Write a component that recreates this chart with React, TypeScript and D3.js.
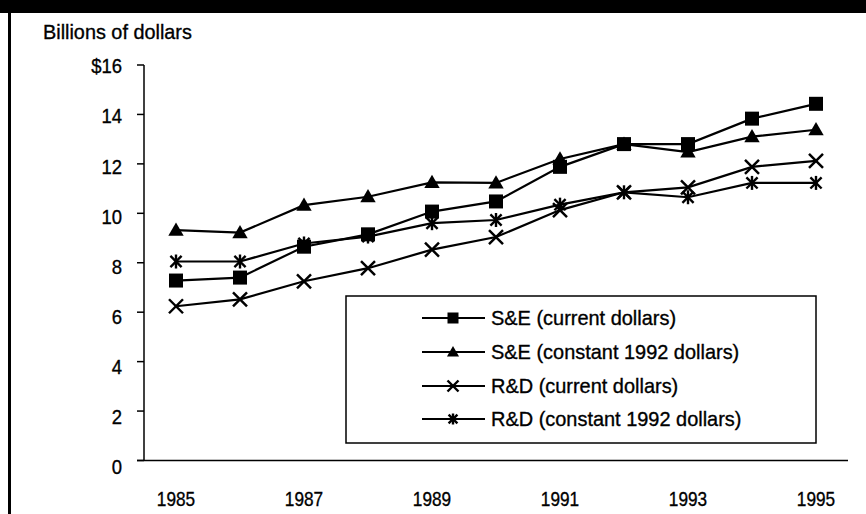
import React from "react";
import * as d3 from "d3";

const years = [1985, 1986, 1987, 1988, 1989, 1990, 1991, 1992, 1993, 1994, 1995];
const seCurrent = [7.28, 7.4, 8.65, 9.15, 10.07, 10.48, 11.88, 12.8, 12.8, 13.83, 14.43];
const seConstant = [9.32, 9.22, 10.33, 10.67, 11.25, 11.23, 12.2, 12.8, 12.48, 13.1, 13.38];
const rdCurrent = [6.24, 6.52, 7.25, 7.78, 8.53, 9.04, 10.13, 10.85, 11.05, 11.88, 12.12];
const rdConstant = [8.05, 8.05, 8.78, 9.06, 9.6, 9.73, 10.35, 10.85, 10.65, 11.23, 11.23];
const yTicks = [0, 2, 4, 6, 8, 10, 12, 14, 16];
const yTickLabels = ["0", "2", "4", "6", "8", "10", "12", "14", "$16"];
const xLabelYears = [1985, 1987, 1989, 1991, 1993, 1995];
const seriesNames = [
  "S&E (current dollars)",
  "S&E (constant 1992 dollars)",
  "R&D (current dollars)",
  "R&D (constant 1992 dollars)",
];
const seriesValues = [seCurrent, seConstant, rdCurrent, rdConstant];
const markerTypes = ["square", "triangle", "x", "asterisk"];

const FONT = "'Liberation Sans', Arial, sans-serif";

function Marker({ type, x, y, s }: { type: string; x: number; y: number; s: number }) {
  const h = s / 2;
  if (type === "square") return <rect x={x - h} y={y - h} width={s} height={s} fill="#000" />;
  if (type === "triangle")
    return <path d={`M${x},${y - h * 1.1}L${x + h * 1.1},${y + h * 0.8}L${x - h * 1.1},${y + h * 0.8}Z`} fill="#000" />;
  if (type === "x")
    return (
      <g stroke="#000" strokeWidth={2.4}>
        <line x1={x - h} y1={y - h} x2={x + h} y2={y + h} />
        <line x1={x - h} y1={y + h} x2={x + h} y2={y - h} />
      </g>
    );
  return (
    <g stroke="#000" strokeWidth={2.4}>
      <line x1={x - h * 0.8} y1={y - h * 0.8} x2={x + h * 0.8} y2={y + h * 0.8} />
      <line x1={x - h * 0.8} y1={y + h * 0.8} x2={x + h * 0.8} y2={y - h * 0.8} />
      <line x1={x} y1={y - h} x2={x} y2={y + h} />
    </g>
  );
}

function T({ x, y, sx, anchor, children }: { x: number; y: number; sx: number; anchor?: string; children: React.ReactNode }) {
  return (
    <text
      transform={`translate(${x},${y}) scale(${sx},1)`}
      dy="0.35em"
      textAnchor={anchor || "start"}
      fontSize={21}
      fill="#000"
      stroke="#000"
      strokeWidth={0.35}
    >
      {children}
    </text>
  );
}

export default function App() {
  const W = 866, H = 514;
  const x = d3.scaleBand<number>().domain(years).range([144, 848]);
  const cx = (yr: number) => (x(yr) as number) + x.bandwidth() / 2;
  const y = d3.scaleLinear().domain([0, 16]).range([460.5, 65]);
  const yLab = d3.scaleLinear().domain([0, 16]).range([467, 66]);
  const line = d3.line<number>().x((_, i) => cx(years[i])).y((v) => y(v));

  const legX = 346, legY = 296, legW = 470, legH = 147;
  const rowY = [318, 352, 386, 419];

  return (
    <svg width={W} height={H} style={{ position: "absolute", left: 0, top: 0, background: "#fff" }} fontFamily={FONT}>
      <rect x={0} y={0} width={W} height={H} fill="#fff" />
      <rect x={0} y={0} width={W} height={13} fill="#000" />
      <rect x={8} y={0} width={3} height={H} fill="#000" />
      <T x={43} y={32} sx={0.945}>Billions of dollars</T>

      {/* y axis */}
      <line x1={144} y1={65} x2={144} y2={460.5} stroke="#000" strokeWidth={1.5} />
      {yTicks.map((t, i) => (
        <g key={t}>
          <line x1={137} x2={144} y1={y(t)} y2={y(t)} stroke="#000" strokeWidth={1.5} />
          <T x={122} y={yLab(t)} sx={0.88} anchor="end">{yTickLabels[i]}</T>
        </g>
      ))}
      {/* x axis */}
      <line x1={137} x2={848} y1={460.5} y2={460.5} stroke="#000" strokeWidth={1.5} />
      {xLabelYears.map((yr) => (
        <T key={yr} x={cx(yr)} y={499} sx={0.82} anchor="middle">{yr}</T>
      ))}

      {/* series */}
      {seriesValues.map((vals, si) => (
        <g key={si}>
          <path d={line(vals) || ""} fill="none" stroke="#000" strokeWidth={2.2} />
          {vals.map((v, i) => (
            <Marker key={i} type={markerTypes[si]} x={cx(years[i])} y={y(v)} s={14} />
          ))}
        </g>
      ))}

      {/* legend */}
      <rect x={legX} y={legY} width={legW} height={legH} fill="#fff" stroke="#000" strokeWidth={1.5} />
      {seriesNames.map((n, i) => (
        <g key={n}>
          <line x1={422} x2={485} y1={rowY[i]} y2={rowY[i]} stroke="#000" strokeWidth={2} />
          <Marker type={markerTypes[i]} x={453} y={rowY[i]} s={11} />
          <T x={491} y={rowY[i]} sx={0.95}>{n}</T>
        </g>
      ))}
    </svg>
  );
}
